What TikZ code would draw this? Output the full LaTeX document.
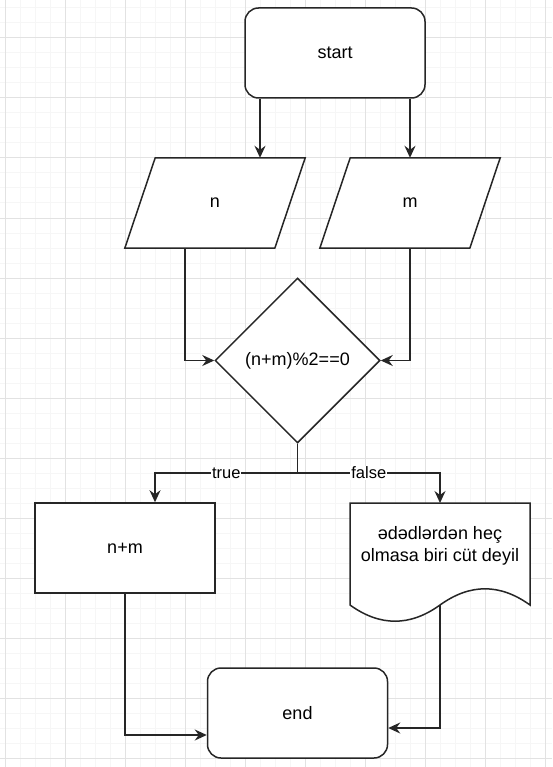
\documentclass[tikz,border=0pt]{standalone}
\usepackage{fontspec}
\setmainfont{Liberation Sans}
\usetikzlibrary{arrows.meta,shapes.geometric,calc}
\pgfdeclarelayer{grid}
\pgfdeclarelayer{bg}
\pgfsetlayers{grid,bg,main}
\definecolor{ln}{HTML}{262626}
\definecolor{gmaj}{HTML}{E2E2E2}
\definecolor{gmin}{HTML}{F6F6F6}
\begin{document}
\begin{tikzpicture}[x=1pt,y=-1pt,
  every node/.style={font=\fontsize{18pt}{21.6pt}\selectfont, text=black},
  box/.style={draw=ln, line width=1.5pt, fill=white, minimum width=180pt, minimum height=90pt, inner sep=0pt},
  term/.style={box, rounded corners=13.5pt},
  ghost/.style={minimum width=180pt, minimum height=90pt, inner sep=0pt},
  shp/.style={draw=ln, line width=1.5pt, fill=white, line join=miter},
  decision/.style={draw=ln, line width=1.5pt, fill=white, diamond, aspect=1, minimum width=165pt, minimum height=165pt, inner sep=0pt},
  con/.style={draw=ln, line width=1.5pt},
  arr/.style={con, -{Stealth[length=12pt,width=11pt,inset=4pt]}},
  lbl/.style={fill=white, inner sep=1pt, font=\fontsize{16.5pt}{19.8pt}\selectfont}]
\useasboundingbox (0,0) rectangle (552,767);
\begin{pgfonlayer}{grid}
\fill[white] (0,0) rectangle (552,767);
\foreach \x in {5,20,...,545} \draw[gmin, line width=1pt] (\x,0) -- (\x,767);
\foreach \y in {8,23,...,758} \draw[gmin, line width=1pt] (0,\y) -- (552,\y);
\foreach \x in {5,65,...,545} \draw[gmaj, line width=1pt] (\x,0) -- (\x,767);
\foreach \y in {38,98,...,758} \draw[gmaj, line width=1pt] (0,\y) -- (552,\y);
\end{pgfonlayer}

\node[term] (start) at (335,53) {start};
\node[ghost] (n) at (215,203) {n};
\node[ghost] (m) at (410,203) {m};
\begin{pgfonlayer}{bg}
\draw[shp] (n.south west) -- ([xshift=150pt]n.south west) -- (n.north east) -- ([xshift=-150pt]n.north east) -- cycle;
\draw[shp] (m.south west) -- ([xshift=150pt]m.south west) -- (m.north east) -- ([xshift=-150pt]m.north east) -- cycle;
\draw[shp] (350,503) -- (530,503) -- (530,605) .. controls (500,583.4) and (470,583.4) .. (440,605) .. controls (410,626.6) and (380,626.6) .. (350,605) -- cycle;
\end{pgfonlayer}
\node[decision] (dec) at (297.5,360.5) {(n+m)\%2==0};
\node[box] (nm) at (125,548) {n+m};
\node[align=center] (doc) at (440,546) {ədədlərdən heç\\olmasa biri cüt deyil};
\coordinate (docTop) at (440,503);
\coordinate (docBot) at (440,605);
\node[term] (end) at (297.5,713) {end};
\coordinate (br) at (297.5,473);

\draw[arr] ([xshift=-75pt]start.south) -- ([xshift=45pt]n.north);
\draw[arr] ([xshift=75pt]start.south) -- (m.north);
\draw[arr] ([xshift=-30pt]n.south) |- (dec.west);
\draw[arr] (m.south) |- (dec.east);
\draw[con] (dec.south) -- (br);
\draw[arr] (br) -| node[lbl,pos=0.25]{true} ([xshift=30pt]nm.north);
\draw[arr] (br) -| node[lbl,pos=0.25]{false} (docTop);
\draw[arr] (nm.south) |- ([yshift=-22pt]end.west);
\draw[arr] (docBot) |- ([yshift=-15pt]end.east);
\end{tikzpicture}
\end{document}
